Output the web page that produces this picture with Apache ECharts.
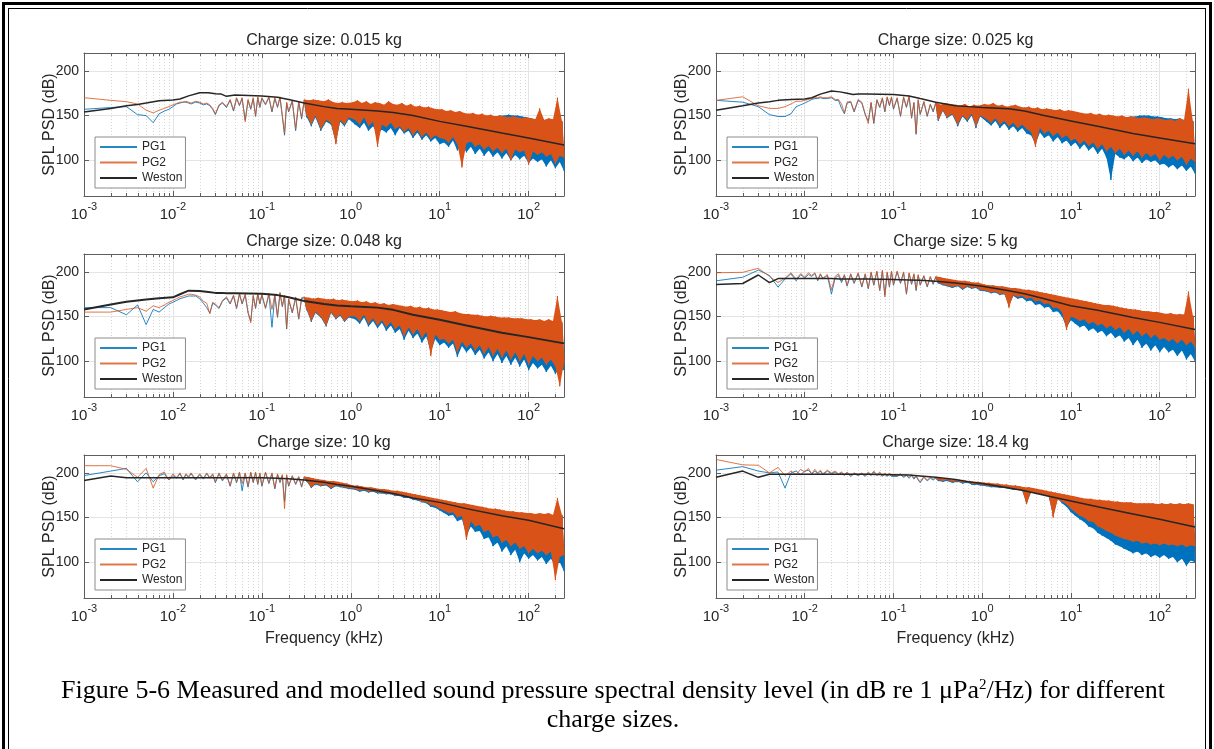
<!DOCTYPE html>
<html><head><meta charset="utf-8">
<script src="https://cdn.jsdelivr.net/npm/echarts@6/dist/echarts.min.js"></script>
<style>html,body{margin:0;padding:0;background:#fff}#c{width:1214px;height:749px}</style>
</head><body><div id="c"></div>
<script>
// ---------------- DATA ----------------
const TITLES = ['Charge size: 0.015 kg','Charge size: 0.025 kg','Charge size: 0.048 kg','Charge size: 5 kg','Charge size: 10 kg','Charge size: 18.4 kg'];
const SERIES_NAMES = ['PG1','PG2','Weston'];
const Y_TICKS = [100,150,200];
const X_DECADES = [0.001,0.01,0.1,1,10,100];
const MINOR_TICKS = [0.002,0.003,0.004,0.005,0.006,0.007,0.008,0.009,
  0.02,0.03,0.04,0.05,0.06,0.07,0.08,0.09,
  0.2,0.3,0.4,0.5,0.6,0.7,0.8,0.9,
  2,3,4,5,6,7,8,9,
  20,30,40,50,60,70,80,90,200];

// frequency (kHz) of the sparse low-frequency part of the measured spectra
const FREQ_LINE = [0.001,0.002,0.003,0.004,0.005,0.006,0.007,0.008,0.009,0.010,
 0.011,0.012,0.013,0.014,0.015,0.016,0.018,0.020,0.022,0.024,
 0.026,0.028,0.030,0.033,0.036,0.040,0.044,0.048,0.052,0.056,
 0.060,0.065,0.070,0.075,0.080,0.085,0.090,0.095,0.100,
 0.11,0.12,0.13,0.14,0.15,0.16,0.17,0.18,0.19,0.20,0.22,0.24,0.26,0.28,0.30];
// frequency (kHz) of the dense band (alternating crest / trough)
const FREQ_BAND = [0.30,0.32,0.34,0.36,0.38,0.40,0.43,0.46,0.50,0.53,0.56,0.60,0.64,0.68,0.72,0.76,0.80,0.85,0.90,0.95,
 1.06,1.12,1.19,1.26,1.33,1.41,1.5,1.58,1.68,1.78,1.88,2.0,2.11,2.24,2.37,2.51,2.66,2.82,2.99,3.16,
 3.35,3.55,3.76,3.98,4.22,4.47,4.73,5.01,5.31,5.62,5.96,6.31,6.68,7.08,7.5,7.94,8.41,8.91,9.44,10,
 10.6,11.2,11.9,12.6,13.3,14.1,15,15.8,16.8,17.8,18.8,20,21.1,22.4,23.7,25.1,26.6,28.2,29.9,31.6,
 33.5,35.5,37.6,39.8,42.2,44.7,47.3,50.1,53.1,56.2,59.6,63.1,66.8,70.8,75,79.4,84.1,89.1,94.4,100,
 106,112,119,126,133,141,150,158,168,178,188,200,211,224,237,250];
const FREQ_WESTON = [0.001,0.002,0.003,0.004,0.005,0.007,0.01,0.012,0.015,0.02,0.025,0.03,0.035,0.04,0.05,0.1,0.15,0.2,0.3,0.5,0.7,1,2,3,5,10,20,50,100,250];

// ---- 0.015 kg ----
const P1_PG1_LINE = [157,159,160,151,150,142,152,155,157,160, 163,164,165,165,164,163,165,164,162,163, 161,157,151,161,164,159,167,155,169,161, 169,145,167,157,169,149,170,159,169,
 162,170,154,169,159,170,149,128,164,154,166,133,165,146,167];
const P1_PG1_BAND = [167,148,166,138,167,148,166,133,165,143,167,140,164,120,163,143,164,138,163,146,
 162,140,163,136,161,142,162,133,160,138,161,130,160,134,159,131,160,136,158,128,
 158,136,159,130,157,133,158,125,156,131,157,123,155,128,156,121,154,125,153,118,
 153,120,152,115,151,122,150,111,150,117,149,109,149,115,148,107,147,113,148,105,
 148,111,149,104,149,109,150,102,150,108,151,100,150,106,150,101,149,105,148,97,
 147,102,146,98,146,101,145,93,146,100,144,91,145,98,143,88];
const P1_PG2_LINE = [170,167,165.5,163,156,153,156,158,160,162, 163.5,165,165,166,165,164,166,165,163,164, 162,158,152,162,165,160,168,156,170,162, 170,143,168,158,170,150,171,160,170,
 163,171,155,170,160,171,150,130,165,155,167,135,166,148,168];
const P1_PG2_BAND = [168,150,167,140,168,150,167,135,166,145,168,142,165,118,164,145,165,140,164,148,
 165,145,167,140,164,148,166,138,163,143,165,115,164,140,162,137,166,142,163,135,
 162,138,164,132,161,136,163,128,160,134,161,126,159,131,160,124,158,128,157,125,
 157,124,155,120,156,126,154,118,155,92,153,119,152,121,153,115,151,118,152,112,
 150,116,151,110,149,114,150,108,149,113,148,100,149,112,148,109,147,111,148,95,
 147,110,146,106,158,109,145,104,147,107,146,96,170,105,144,103];
const P1_WESTON = [154,158,161,162.5,164,166.5,167.5,168.5,172,175.5,175.5,174.5,174,171.5,173,172,170.5,168,164,160,158,157,155,153.5,150,143.5,138,130.5,125,117];

// ---- 0.025 kg ----
const P2_PG1_LINE = [167,165,160,151,149,149,152,160,162,164, 166,168,169,169,170,169,169,170,167,167, 158,152,164,165,154,167,164,151,144,164, 141,167,159,169,154,170,161,170,157,
 169,149,170,159,171,147,164,129,167,151,165,149,162,154,164];
const P2_PG1_BAND = [164,144,161,155,163,147,162,151,161,138,160,149,162,143,159,150,161,136,160,149,
 161,143,160,139,162,144,159,136,160,141,158,134,159,138,160,132,158,136,157,130,
 158,128,156,118,157,131,155,125,156,128,155,121,154,126,155,119,153,122,154,116,
 153,120,152,113,151,118,150,111,151,115,149,107,150,113,148,103,149,78,148,107,
 148,103,149,101,148,105,149,99,149,103,150,97,150,101,150,98,149,100,149,95,
 148,96,147,92,147,95,146,90,147,94,145,88,146,93,144,85];
const P2_PG2_LINE = [167,171,161,158,158,160,163,166,166,167, 168,169,170,170,171,170,170,171,168,168, 163,153,165,166,155,168,165,152,141,165, 142,168,160,170,155,171,162,171,158,
 170,150,171,160,172,148,165,130,168,152,166,150,163,155,165];
const P2_PG2_BAND = [165,145,162,156,164,148,163,152,162,140,161,150,163,145,160,152,162,138,161,150,
 163,146,162,142,164,147,161,140,162,144,160,138,161,142,162,136,160,140,159,135,
 160,132,158,115,159,136,157,130,158,133,157,127,156,131,157,125,155,128,156,122,
 155,124,154,118,153,122,152,116,153,120,151,113,152,118,150,110,151,115,150,108,
 149,113,150,106,148,111,149,105,148,110,147,103,148,108,147,104,146,107,147,100,
 146,106,145,102,146,105,144,100,147,104,145,95,180,102,143,98];
const P2_WESTON = [156,161,164,165.5,167,168,168.5,170,174,177.5,176.5,175,173.5,174,174,173.5,172,169,165,161,160,159,157.5,155,150,144,138,130,125,118.5];

// ---- 0.048 kg ----
const P3_PG1_LINE = [160,160,152,163,141,158,155,160,164,166, 168,170,171,172,173,173,173,170,165,160, 154,165,163,159,167,171,164,173,159,175, 164,174,154,145,173,159,175,164,174,
 159,175,138,174,149,176,161,173,136,169,154,171,147,170,171];
const P3_PG1_BAND = [171,157,169,144,170,154,169,149,168,139,169,154,167,147,168,151,167,144,166,149,
 165,147,166,142,164,149,165,139,163,145,164,137,162,143,163,134,161,140,162,132,
 161,136,160,124,159,134,160,126,158,131,159,121,157,128,158,110,156,125,156,118,
 155,121,154,115,153,120,154,105,152,117,151,110,151,115,150,107,150,113,149,103,
 149,110,150,100,149,108,148,98,148,106,148,96,147,104,147,94,146,102,146,90,
 146,98,145,92,145,96,144,88,145,95,143,86,144,92,142,90];
const P3_PG2_LINE = [155,155,158,160,156,162,160,163,166,168, 170,172,173,174,175,175,174,172,167,165, 153,166,164,160,168,172,165,174,160,176, 165,175,155,143,174,160,176,165,175,
 160,176,158,175,150,177,162,174,137,170,155,172,148,171,172];
const P3_PG2_BAND = [172,158,171,145,170,155,171,150,170,140,169,155,170,148,168,152,169,145,168,150,
 167,150,168,145,166,152,167,142,165,148,166,140,164,146,165,138,163,144,164,136,
 163,140,162,128,161,138,162,130,160,136,161,126,159,133,160,106,158,130,158,124,
 157,125,156,120,155,124,156,110,154,122,153,115,153,120,152,112,152,118,151,108,
 150,116,151,106,150,114,149,104,149,112,149,102,148,110,148,100,148,108,147,96,
 147,106,146,100,147,104,145,96,147,102,145,94,173,72,144,98];
const P3_WESTON = [158,163.5,166.5,168,169,170.5,171.5,175,179,178.5,177.5,176.5,176.5,176,176,175.5,174,171.5,167.5,164,162.5,161.5,160,157.5,152,146.5,140,132,127,120];

// ---- 5 kg ----
const P4_PG1_LINE = [190,194,202,196,183,192,198,190,197,193, 197,195,198,190,197,192,196,175,193,196, 188,196,184,197,187,198,183,197,181,199, 185,200,179,201,174,199,183,200,185,
 200,187,199,175,198,186,197,179,196,185,195,183,194,186,194];
const P4_PG1_BAND = [194,187,193,185,192,184,191,182,190,184,189,180,189,183,188,181,187,182,187,179,
 185,178,184,176,184,177,183,174,183,175,182,162,181,173,181,170,180,171,179,167,
 179,168,178,163,177,164,176,160,175,161,174,155,173,156,172,150,171,138,170,146,
 169,142,168,138,167,140,166,134,165,137,164,132,163,134,162,128,162,132,161,126,
 160,129,159,122,158,126,158,118,157,124,156,115,156,120,155,112,155,118,154,110,
 153,116,153,110,153,113,152,106,152,112,152,102,151,108,150,100];
const P4_PG2_LINE = [199,199.5,204,195,188,193,199,192,198,194, 199,196,199,191,198,193,197,180,195,198, 190,197,185,198,188,199,184,198,182,200, 186,201,180,202,172,200,184,201,186,
 201,188,200,176,199,187,198,180,197,186,196,184,195,187,195];
const P4_PG2_BAND = [195,188,194,186,193,185,192,183,191,185,190,181,190,184,189,182,188,183,188,180,
 186,179,185,177,185,178,184,175,184,176,183,160,182,174,182,172,181,173,180,170,
 180,171,179,167,178,168,177,164,176,165,175,160,174,160,173,155,172,135,171,150,
 170,148,169,145,168,147,167,142,166,144,165,140,164,142,163,137,163,140,162,135,
 161,138,160,132,159,136,158,130,158,134,157,128,156,132,156,126,155,130,155,124,
 154,126,153,122,154,125,152,120,153,124,152,118,178,122,151,116];
const P4_WESTON = [186,187,196.5,188,192.5,192.5,192.5,192.5,192.5,192.5,192,192,192,192,192,191.5,191,190.5,189.5,187.5,186,184,179,175.5,170,162,157,149,143.5,135.5];

// ---- 10 kg ----
const P5_PG1_LINE = [197,202,205,190,200,190,197,199,192,197, 194,199,192,198,195,199,192,198,193,199, 194,198,189,199,191,198,185,199,189,200, 180,199,184,200,189,200,187,199,185,
 200,188,199,182,198,189,197,168,197,185,196,187,195,184,195];
const P5_PG1_BAND = [195,190,194,183,193,187,192,185,191,186,190,182,190,185,189,184,188,183,187,182,
 185,181,185,179,184,180,183,178,183,179,182,177,181,177,181,176,180,176,179,174,
 179,174,178,172,177,172,176,170,175,169,174,167,173,166,172,162,171,161,170,158,
 169,155,168,152,167,153,166,146,165,148,165,130,164,140,163,134,162,135,161,126,
 160,128,159,118,159,122,158,112,157,118,156,108,156,114,155,100,155,110,154,104,
 154,108,153,102,154,106,153,98,154,104,152,96,153,100,152,90];
const P5_PG2_LINE = [208,208,204,195,205,183,198,201,192,199, 195,200,193,199,196,200,193,199,194,200, 195,199,190,200,192,199,186,200,190,201, 188,200,185,201,190,201,188,200,186,
 201,189,200,183,199,190,198,160,198,186,197,188,196,185,196];
const P5_PG2_BAND = [196,191,195,184,194,188,193,186,192,187,191,183,191,186,190,185,189,184,188,183,
 186,182,186,180,185,181,184,179,184,180,183,178,182,178,182,177,181,177,180,175,
 180,175,179,173,178,173,177,171,176,170,175,168,174,167,173,164,172,163,171,160,
 170,158,169,155,168,156,167,150,166,152,166,125,165,146,164,140,163,142,162,134,
 161,136,160,128,160,130,159,122,158,125,157,118,157,122,156,115,156,118,155,110,
 155,115,154,110,155,113,154,108,155,112,153,80,172,106,153,108];
const P5_WESTON = [191.5,196.5,194.5,194.5,194.5,194.5,194.5,194.5,194.5,194.5,194.5,194.5,194.5,194.5,194.5,194.5,194,193.5,192,189.5,187,185,180,177,172,167,160,152,147,137.5];

// ---- 18.4 kg ----
const P6_PG1_LINE = [203,207,202,200,201,183,200,202,198,202, 203,199,202,199,202,198,202,199,201,198, 200,197,200,196,199,197,199,196,200,197, 201,197,200,196,199,196,199,196,198,
 196,198,195,197,194,197,193,196,192,189,195,191,194,192,194];
const P6_PG1_BAND = [194,191,193,190,192,191,192,189,191,190,191,188,190,189,190,187,189,187,189,186,
 188,185,188,184,187,184,187,183,186,183,186,182,185,181,185,181,184,180,183,166,
 183,178,182,177,181,176,180,175,179,173,178,152,177,171,176,166,175,162,174,156,
 173,152,172,148,171,145,170,140,170,138,169,133,169,130,168,127,168,124,167,120,
 167,118,166,115,166,113,166,110,165,112,165,108,165,110,165,106,165,108,164,105,
 165,108,164,104,165,106,164,100,165,104,164,96,165,102,164,100];
const P6_PG2_LINE = [215,209,208.5,200,206,197,202,198,204,201, 205,199,204,200,203,199,203,200,202,199, 201,198,201,197,200,198,200,197,201,198, 202,198,201,197,200,197,200,197,199,
 197,199,196,198,195,198,194,197,193,190,196,192,195,193,195];
const P6_PG2_BAND = [195,192,194,191,193,192,193,190,192,191,192,189,191,190,191,188,190,188,190,187,
 189,186,189,185,188,185,188,184,187,184,187,183,186,182,186,182,185,181,184,165,
 184,179,183,178,182,177,181,176,180,174,179,150,178,170,177,168,176,165,175,160,
 174,156,173,152,172,150,171,146,171,145,170,140,170,138,169,135,169,133,168,130,
 168,128,167,126,167,125,167,123,166,124,166,121,166,122,166,120,166,121,165,119,
 166,121,165,119,166,120,165,118,166,120,165,117,166,119,165,118];
const P6_WESTON = [195,202,195,198.5,198.5,198.5,198.5,198.5,198.5,198.5,198.5,198.5,198.5,198.5,198.5,198,197.5,196.5,195,192.5,190,188,183,180,175,168.5,162,154,148,139.5];

const CAPTION_1 = 'Figure 5-6 Measured and modelled sound pressure spectral density level (in dB re 1 \u03bcPa{s|2}/Hz) for different';
const CAPTION_2 = 'charge sizes.';

// ---------------- LAYOUT / STYLE ----------------
const PANELS = [
  {pg1:[P1_PG1_LINE,P1_PG1_BAND], pg2:[P1_PG2_LINE,P1_PG2_BAND], w:P1_WESTON},
  {pg1:[P2_PG1_LINE,P2_PG1_BAND], pg2:[P2_PG2_LINE,P2_PG2_BAND], w:P2_WESTON},
  {pg1:[P3_PG1_LINE,P3_PG1_BAND], pg2:[P3_PG2_LINE,P3_PG2_BAND], w:P3_WESTON},
  {pg1:[P4_PG1_LINE,P4_PG1_BAND], pg2:[P4_PG2_LINE,P4_PG2_BAND], w:P4_WESTON},
  {pg1:[P5_PG1_LINE,P5_PG1_BAND], pg2:[P5_PG2_LINE,P5_PG2_BAND], w:P5_WESTON},
  {pg1:[P6_PG1_LINE,P6_PG1_BAND], pg2:[P6_PG2_LINE,P6_PG2_BAND], w:P6_WESTON}
];
const COL_LEFT = [84, 716], COL_W = [480, 479];
const ROW_TOP = [53, 254, 455], GRID_H = 143;
const X_MIN = 0.001, X_MAX = 250, Y_MIN = 60, Y_MAX = 220;
const FONT = "'Liberation Sans', Arial, Helvetica, sans-serif";
const SERIF = "'Liberation Serif', 'Times New Roman', serif";
const TXT = '#262626', AXC = '#5e5e5e', GRIDC = '#e4e4e4', MINC = '#d6d6d6';
const C_PG1 = '#0072BD', C_PG2 = '#D95319', C_W = '#262626';

const zip = (xs, ys) => xs.map((x, i) => [x, ys[i]]);

const grids = [], xAxes = [], yAxes = [], series = [], legends = [], graphics = [];
PANELS.forEach((p, k) => {
  const col = k % 2, row = Math.floor(k / 2);
  const left = COL_LEFT[col], top = ROW_TOP[row], w = COL_W[col];
  grids.push({left, top, width: w, height: GRID_H, containLabel: false});
  const xi = xAxes.length, yi = yAxes.length;
  xAxes.push({
    type: 'log', logBase: 10, gridIndex: k, min: X_MIN, max: X_MAX, position: 'bottom',
    axisLine: {show: true, lineStyle: {color: AXC, width: 1}},
    axisTick: {show: true, inside: true, length: 5, lineStyle: {color: AXC}},
    splitLine: {show: true, lineStyle: {color: GRIDC, width: 1}},
    axisLabel: {
      show: true, margin: 10, showMaxLabel: false, showMinLabel: true, color: TXT, fontFamily: FONT,
      formatter: v => {
        if (!X_DECADES.some(d => Math.abs(d - v) / d < 1e-6)) return '';
        return '{b|10}{s|' + Math.round(Math.log10(v)) + '}';
      },
      rich: {
        b: {fontSize: 15, fontFamily: FONT, color: TXT, lineHeight: 16, verticalAlign: 'bottom'},
        s: {fontSize: 11, fontFamily: FONT, color: TXT, lineHeight: 12, verticalAlign: 'bottom', padding: [0, 0, 10, 0]}
      }
    },
    name: row === 2 ? 'Frequency (kHz)' : '', nameLocation: 'middle', nameGap: 33, nameMoveOverlap: false,
    nameTextStyle: {fontSize: 16, color: TXT, fontFamily: FONT}
  });
  xAxes.push({
    type: 'log', logBase: 10, gridIndex: k, min: X_MIN, max: X_MAX, position: 'top',
    axisLine: {show: true, lineStyle: {color: AXC, width: 1}},
    axisTick: {show: true, inside: true, length: 5, lineStyle: {color: AXC}},
    splitLine: {show: false}, axisLabel: {show: false}
  });
  yAxes.push({
    type: 'value', gridIndex: k, min: Y_MIN, max: Y_MAX, splitNumber: 3, position: 'left',
    axisLine: {show: true, lineStyle: {color: AXC, width: 1}},
    axisTick: {show: true, inside: true, length: 5, lineStyle: {color: AXC}},
    splitLine: {show: true, lineStyle: {color: GRIDC, width: 1}},
    axisLabel: {show: true, margin: 5, fontSize: 14, color: TXT, fontFamily: FONT,
      formatter: v => Y_TICKS.includes(v) ? String(v) : ''},
    name: 'SPL PSD (dB)', nameLocation: 'middle', nameGap: 26, nameMoveOverlap: false,
    nameTextStyle: {fontSize: 16, color: TXT, fontFamily: FONT}
  });
  yAxes.push({
    type: 'value', gridIndex: k, min: Y_MIN, max: Y_MAX, splitNumber: 3, position: 'right',
    axisLine: {show: true, lineStyle: {color: AXC, width: 1}},
    axisTick: {show: true, inside: true, length: 5, lineStyle: {color: AXC}},
    splitLine: {show: false}, axisLabel: {show: false}
  });
  // minor log grid + minor ticks
  series.push({
    type: 'custom', xAxisIndex: xi, yAxisIndex: yi, silent: true, z: 1, clip: false,
    data: MINOR_TICKS.map(f => [f, (Y_MIN + Y_MAX) / 2]), encode: {x: 0, y: 1},
    renderItem: (params, api) => {
      const f = api.value(0);
      const t = api.coord([f, Y_MAX]), b = api.coord([f, Y_MIN]);
      const x = Math.round(t[0]) + 0.5;
      return {type: 'group', children: [
        {type: 'line', shape: {x1: x, y1: t[1], x2: x, y2: b[1]}, style: {stroke: MINC, lineWidth: 1, lineDash: [1, 2]}},
        {type: 'line', shape: {x1: x, y1: b[1], x2: x, y2: b[1] - 3}, style: {stroke: AXC, lineWidth: 1}},
        {type: 'line', shape: {x1: x, y1: t[1], x2: x, y2: t[1] + 3}, style: {stroke: AXC, lineWidth: 1}}
      ]};
    }
  });
  const lineSeries = (name, data, color, width, opacity, z) => ({
    type: 'line', name, xAxisIndex: xi, yAxisIndex: yi, data, symbol: 'none', showSymbol: false,
    color, lineStyle: {color, width, opacity}, silent: true, animation: false, z
  });
  // dense band: filled between successive crests and troughs of the band values
  const bandFill = (vals, color, z) => ({
    type: 'custom', xAxisIndex: xi, yAxisIndex: yi, silent: true, z, clip: true,
    data: [[FREQ_BAND[0], vals[0]]], encode: {x: 0, y: 1},
    renderItem: (params, api) => {
      const up = [], lo = [];
      FREQ_BAND.forEach((f, i) => (i % 2 === 0 ? up : lo).push(api.coord([f, vals[i]])));
      return {type: 'polygon', shape: {points: up.concat(lo.reverse())}, style: {fill: color}};
    }
  });
  series.push(lineSeries('PG1', zip(FREQ_LINE, p.pg1[0]), C_PG1, 1, 0.85, 2));
  series.push(bandFill(p.pg1[1], C_PG1, 3));
  series.push(lineSeries('PG1', zip(FREQ_BAND, p.pg1[1]), C_PG1, 1, 1, 3));
  series.push(lineSeries('PG2', zip(FREQ_LINE, p.pg2[0]), C_PG2, 1, 0.8, 4));
  series.push(bandFill(p.pg2[1], C_PG2, 5));
  series.push(lineSeries('PG2', zip(FREQ_BAND, p.pg2[1]), C_PG2, 1, 1, 5));
  series.push(lineSeries('Weston', zip(FREQ_WESTON, p.w), C_W, k === 2 ? 2 : 1.5, 1, 6));
  legends.push({
    data: SERIES_NAMES, orient: 'vertical', left: left + 11, top: top + 84, z: 10,
    itemWidth: 37, itemHeight: 10, itemGap: 3.5, padding: [4, 3, 4, 4],
    itemStyle: {opacity: 0},
    backgroundColor: '#fff', borderColor: '#8c8c8c', borderWidth: 1, borderRadius: 0,
    selectedMode: false, textStyle: {fontSize: 12, color: TXT, fontFamily: FONT}
  });
  graphics.push({type: 'text', x: left + w / 2, y: top - 12, z: 10,
    style: {text: TITLES[k], fill: TXT, fontSize: 16, fontFamily: FONT, align: 'center', verticalAlign: 'middle', textAlign: 'center', textVerticalAlign: 'middle'}});
});

// page frame (double rule) and caption
graphics.push(
  {type: 'line', shape: {x1: 3.5, y1: 2, x2: 3.5, y2: 749}, style: {stroke: '#000', lineWidth: 3}},
  {type: 'line', shape: {x1: 2, y1: 3.5, x2: 1212, y2: 3.5}, style: {stroke: '#000', lineWidth: 3}},
  {type: 'line', shape: {x1: 1210.5, y1: 2, x2: 1210.5, y2: 749}, style: {stroke: '#000', lineWidth: 3}},
  {type: 'line', shape: {x1: 8.5, y1: 8, x2: 8.5, y2: 749}, style: {stroke: '#000', lineWidth: 1}},
  {type: 'line', shape: {x1: 8, y1: 8.5, x2: 1206, y2: 8.5}, style: {stroke: '#000', lineWidth: 1}},
  {type: 'line', shape: {x1: 1205.5, y1: 8, x2: 1205.5, y2: 749}, style: {stroke: '#000', lineWidth: 1}},
  {type: 'text', x: 613, y: 691, style: {text: CAPTION_1, fill: '#000', fontSize: 26, fontFamily: SERIF,
    align: 'center', verticalAlign: 'middle', textAlign: 'center', textVerticalAlign: 'middle',
    rich: {s: {fontSize: 15, fontFamily: SERIF, fill: '#000', verticalAlign: 'top'}}}},
  {type: 'text', x: 613, y: 720, style: {text: CAPTION_2, fill: '#000', fontSize: 26, fontFamily: SERIF,
    align: 'center', verticalAlign: 'middle', textAlign: 'center', textVerticalAlign: 'middle'}}
);

const chart = echarts.init(document.getElementById('c'), null, {renderer: 'canvas', width: 1214, height: 749});
chart.setOption({
  animation: false, backgroundColor: '#fff',
  grid: grids, xAxis: xAxes, yAxis: yAxes, series, legend: legends, graphic: graphics
});
</script></body></html>
